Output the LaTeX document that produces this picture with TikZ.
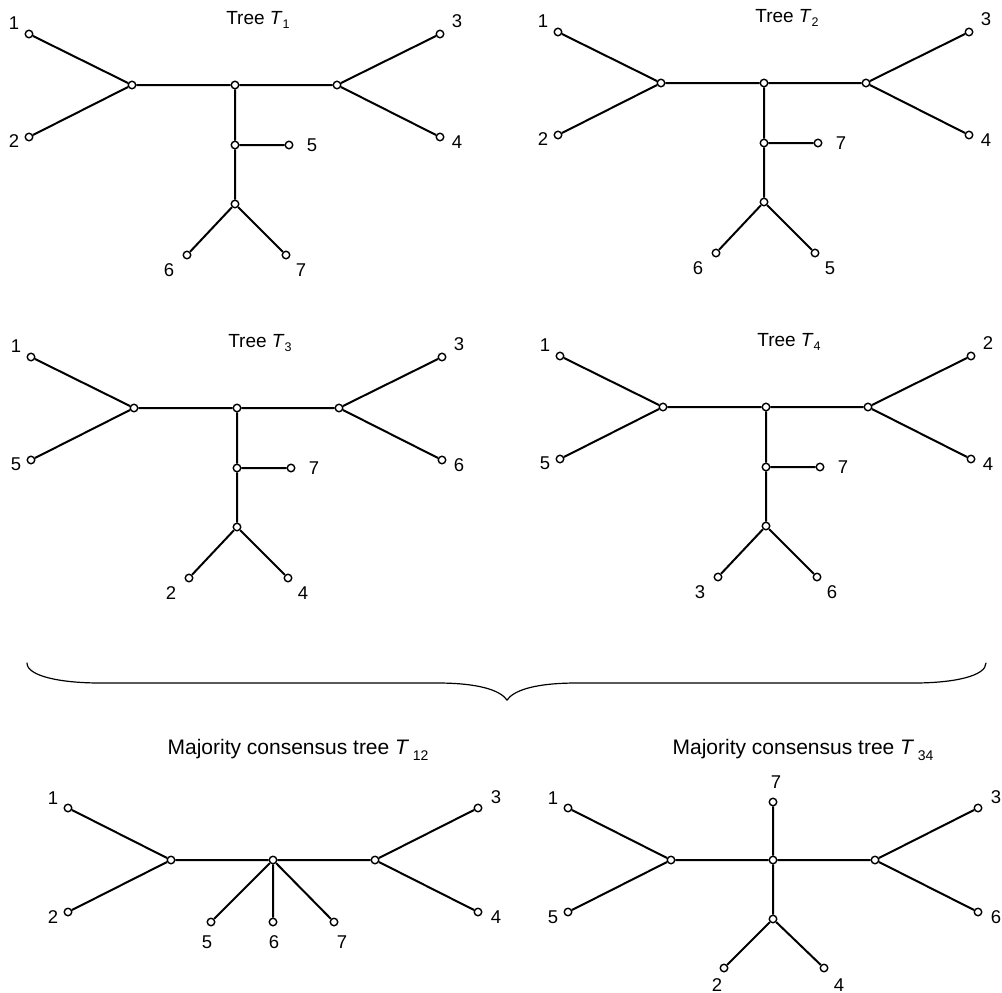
\documentclass[tikz,border=0pt]{standalone}
\usepackage{fontspec}
\setmainfont{Liberation Sans}
\tikzset{
  edge/.style={line width=2pt},
  vtx/.style={circle, draw, fill=white, line width=1.4pt, minimum size=7.5pt, inner sep=0pt},
  lab/.style={font=\fontsize{18.5}{18.5}\selectfont, inner sep=0pt},
  ttl/.style={font=\fontsize{19}{19}\selectfont, inner sep=0pt},
  mttl/.style={font=\fontsize{21}{21}\selectfont, inner sep=0pt},
  bracestyle/.style={line width=1.2pt, line cap=round},
}
\newcommand{\subsc}[2]{\raisebox{-0.25em}{\fontsize{#1}{#1}\selectfont #2}}
\newcommand{\stdtree}[9]{%
\begin{scope}[shift={#2}]
  \node[vtx] (t#1L) at (132,85) {};
  \node[vtx] (t#1C) at (235,85) {};
  \node[vtx] (t#1R) at (337,85) {};
  \node[vtx] (t#1J) at (235,145) {};
  \node[vtx] (t#1K) at (235,204) {};
  \node[vtx] (t#1a) at (29,34) {};
  \node[vtx] (t#1b) at (29,137) {};
  \node[vtx] (t#1c) at (440,34) {};
  \node[vtx] (t#1d) at (440,137) {};
  \node[vtx] (t#1e) at (289,145) {};
  \node[vtx] (t#1f) at (187,255) {};
  \node[vtx] (t#1g) at (286,255) {};
  \draw[edge] (t#1a)--(t#1L) (t#1b)--(t#1L) (t#1L)--(t#1C) (t#1C)--(t#1R)
              (t#1R)--(t#1c) (t#1R)--(t#1d) (t#1C)--(t#1J) (t#1J)--(t#1e)
              (t#1J)--(t#1K) (t#1K)--(t#1f) (t#1K)--(t#1g);
  \node[lab] (t#1la) at (14,23) {#3};
  \node[lab] (t#1lb) at (14,141) {#4};
  \node[lab] (t#1lc) at (457,21) {#5};
  \node[lab] (t#1ld) at (457,142) {#6};
  \node[lab] (t#1le) at (312,145) {#7};
  \node[lab] (t#1lf) at (169,270) {#8};
  \node[lab] (t#1lg) at (301,270) {#9};
  \node[ttl] (t#1title) at (258,20) {Tree \textit{T}\subsc{12.5}{#1}};
\end{scope}}
\begin{document}
\begin{tikzpicture}[x=1pt,y=-1pt]
\useasboundingbox (0,0) rectangle (1002,993);
\stdtree{1}{(0,0)}{1}{2}{3}{4}{5}{6}{7}
\stdtree{2}{(529,-2)}{1}{2}{3}{4}{7}{6}{5}
\stdtree{3}{(2,323)}{1}{5}{3}{6}{7}{2}{4}
\stdtree{4}{(531,322)}{1}{5}{2}{4}{7}{3}{6}

% brace
\draw[bracestyle] (27,663) .. controls (27,676) and (60,683) .. (100,683) -- (437,683)
  .. controls (478,683) and (500,690) .. (507,700)
  .. controls (514,690) and (536,683) .. (577,683) -- (914,683)
  .. controls (954,683) and (986,676) .. (986,663);

% T12
\node[vtx] (aL) at (171,860) {};
\node[vtx] (aC) at (273,860) {};
\node[vtx] (aR) at (375,860) {};
\node[vtx] (a1) at (68,808) {};
\node[vtx] (a2) at (68,912) {};
\node[vtx] (a3) at (478,808) {};
\node[vtx] (a4) at (478,912) {};
\node[vtx] (a5) at (211,922) {};
\node[vtx] (a6) at (273,922) {};
\node[vtx] (a7) at (334,922) {};
\draw[edge] (a1)--(aL) (a2)--(aL) (aL)--(aC) (aC)--(aR) (aR)--(a3) (aR)--(a4)
            (aC)--(a5) (aC)--(a6) (aC)--(a7);
\node[lab] (la1) at (53,798) {1};
\node[lab] (la2) at (53,917) {2};
\node[lab] (la3) at (496,797) {3};
\node[lab] (la4) at (496,917) {4};
\node[lab] (la5) at (207,942) {5};
\node[lab] (la6) at (274,942) {6};
\node[lab] (la7) at (342,942) {7};
\node[mttl] (atitle) at (298,750) {Majority consensus tree \textit{T}\,\subsc{14}{12}};

% T34
\node[vtx] (bL) at (671,860) {};
\node[vtx] (bC) at (773,860) {};
\node[vtx] (bR) at (875,860) {};
\node[vtx] (bK) at (773,919) {};
\node[vtx] (b1) at (568,808) {};
\node[vtx] (b5) at (568,912) {};
\node[vtx] (b3) at (978,808) {};
\node[vtx] (b6) at (978,912) {};
\node[vtx] (b7) at (773,802) {};
\node[vtx] (b2) at (724,968) {};
\node[vtx] (b4) at (824,968) {};
\draw[edge] (b1)--(bL) (b5)--(bL) (bL)--(bC) (bC)--(bR) (bR)--(b3) (bR)--(b6)
            (bC)--(b7) (bC)--(bK) (bK)--(b2) (bK)--(b4);
\node[lab] (lb1) at (553,798) {1};
\node[lab] (lb5) at (553,917) {5};
\node[lab] (lb3) at (996,797) {3};
\node[lab] (lb6) at (996,917) {6};
\node[lab] (lb7) at (776,782) {7};
\node[lab] (lb2) at (717,985) {2};
\node[lab] (lb4) at (839,985) {4};
\node[mttl] (btitle) at (803,750) {Majority consensus tree \textit{T}\,\subsc{14}{34}};
\end{tikzpicture}
\end{document}
